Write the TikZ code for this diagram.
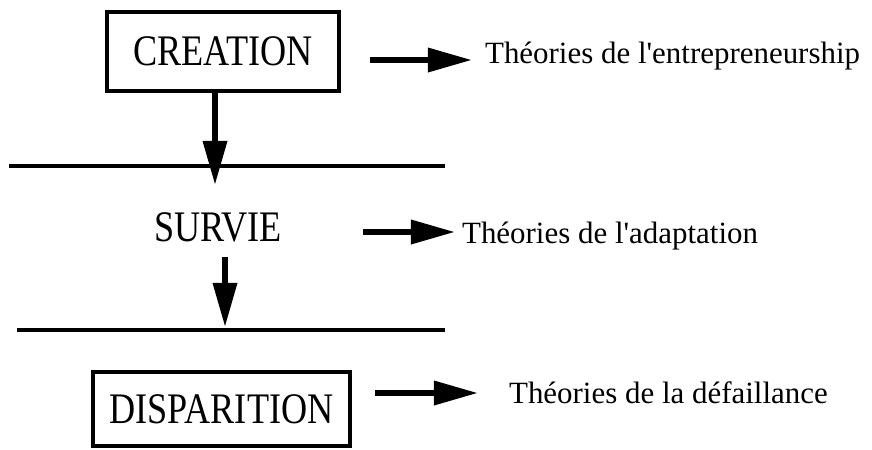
\documentclass[tikz,border=0pt]{standalone}
\usepackage{fontspec}
\setmainfont{Liberation Serif}
\newfontfamily\stagefont[FakeStretch=0.83]{Liberation Serif}
\usetikzlibrary{arrows.meta}

\begin{document}
\begin{tikzpicture}[x=0.025cm, y=-0.025cm, line width=3pt,
    stage/.style={font=\stagefont\fontsize{31}{36}\selectfont, inner sep=0pt},
    stagebox/.style={stage, draw, line width=3pt},
    theory/.style={font=\fontsize{22}{26}\selectfont, anchor=base west, inner sep=0pt},
    flow/.style={line width=4.2pt, -{Triangle[length=1.1cm, width=0.58cm]}}]
  \useasboundingbox (0,0) rectangle (872,449);
  % the three stages
  \node[stagebox, minimum width=5.8cm, minimum height=1.975cm] (creation) at (223,51.5) {CREATION};
  \node[stage] (survie) at (218,227.5) {SURVIE};
  \node[stagebox, minimum width=6.425cm, minimum height=1.85cm] (disparition) at (221.5,409) {DISPARITION};
  % separators between the stages
  \draw[line width=3.5pt] (9,166) -- (445,166);
  \draw[line width=3.5pt] (17,330) -- (445,330);
  % going down
  \coordinate (d1) at (215,185);
  \coordinate (d2) at (225,327);
  \draw[flow] (creation.south -| d1) -- (d1);
  \draw[flow] ([yshift=-0.325cm]survie.south -| d2) -- (d2);
  % theories for each stage
  \node[theory] (th1) at (483,63) {Théories de l\textquotesingle entrepreneurship};
  \node[theory] (th2) at (460,243) {Théories de l\textquotesingle adaptation};
  \node[theory] (th3) at (507,403) {Théories de la défaillance};
  \coordinate (r1) at (370,60);
  \coordinate (r2) at (363,232);
  \coordinate (r3) at (375,393);
  \draw[flow, shorten >=0.275cm] (r1) -- (r1 -| th1.west);
  \draw[flow, shorten >=0.125cm] (r2) -- (r2 -| th2.west);
  \draw[flow, shorten >=0.725cm] (r3) -- (r3 -| th3.west);
\end{tikzpicture}
\end{document}
